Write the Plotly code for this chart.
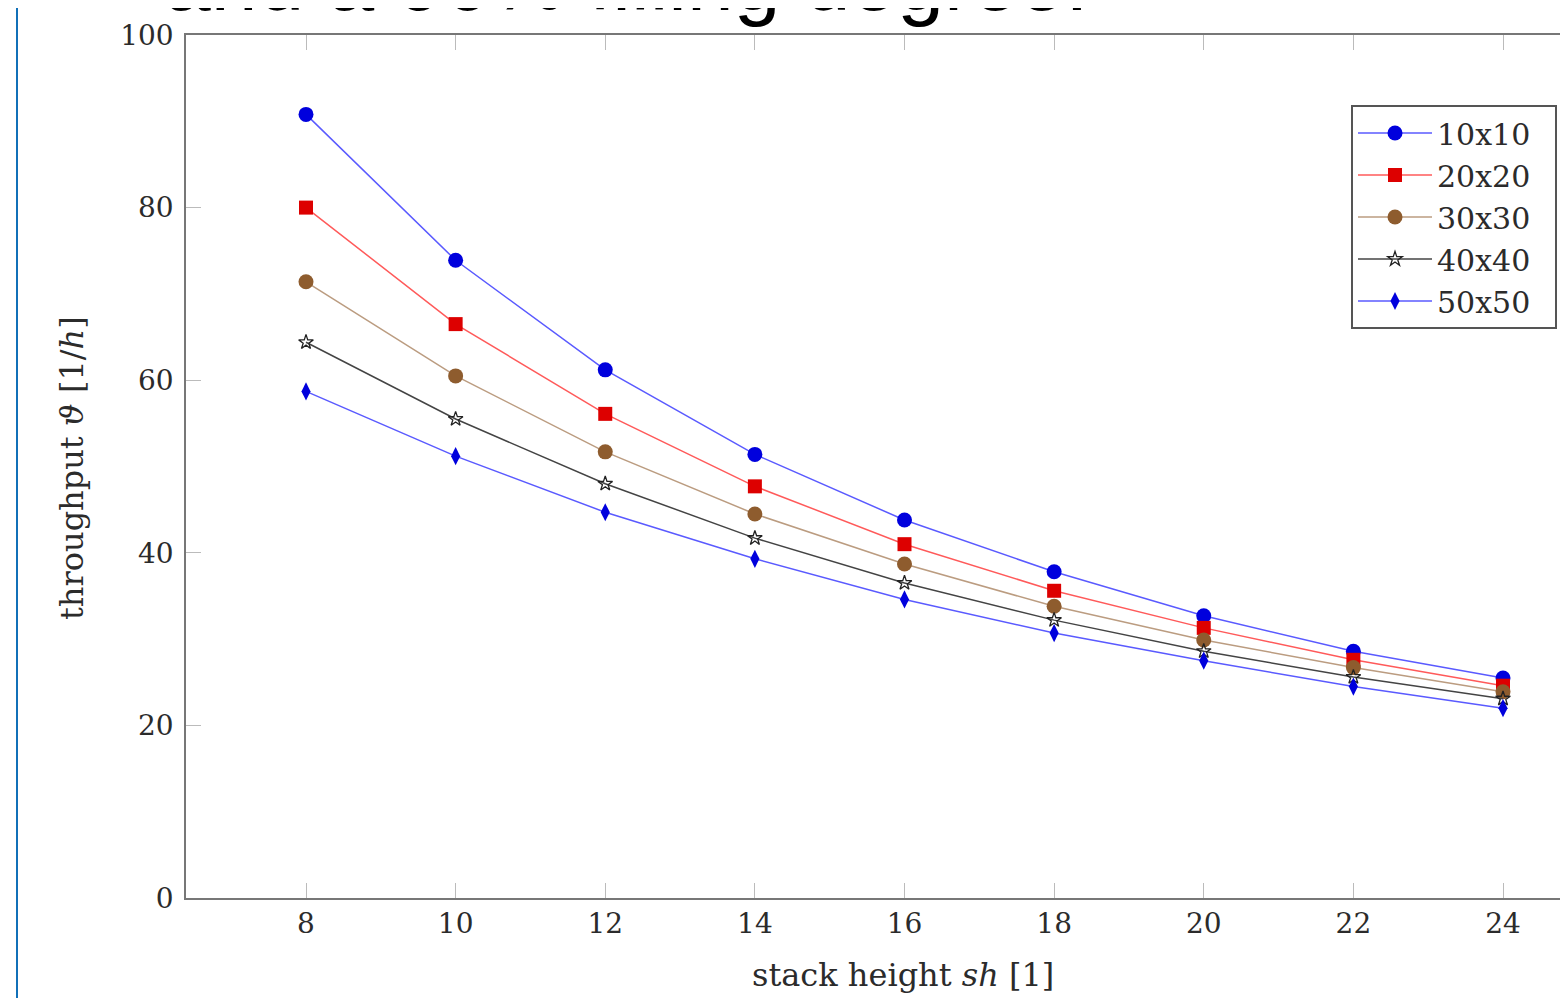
import plotly.graph_objects as go

# ---- data ----
stack_height = [8, 10, 12, 14, 16, 18, 20, 22, 24]
series_names = ["10x10", "20x20", "30x30", "40x40", "50x50"]
thr_10x10 = [90.8, 73.9, 61.2, 51.4, 43.8, 37.8, 32.7, 28.6, 25.5]
thr_20x20 = [80.0, 66.5, 56.1, 47.7, 41.0, 35.6, 31.3, 27.6, 24.6]
thr_30x30 = [71.4, 60.5, 51.7, 44.5, 38.7, 33.8, 29.9, 26.7, 23.9]
thr_40x40 = [64.4, 55.5, 48.0, 41.7, 36.5, 32.2, 28.6, 25.6, 23.1]
thr_50x50 = [58.7, 51.2, 44.7, 39.3, 34.6, 30.7, 27.5, 24.5, 22.0]
y_ticks = [0, 20, 40, 60, 80, 100]
x_ticks = [8, 10, 12, 14, 16, 18, 20, 22, 24]

SERIF = "DejaVu Serif, serif"
TXT = "#2b2b2b"

styles = [
    dict(line="#5a5aff", mcolor="#0000dd", symbol="circle", size=15, mline=None),
    dict(line="#ff5a5a", mcolor="#dd0000", symbol="square", size=14, mline=None),
    dict(line="#bb9c80", mcolor="#8e5c2e", symbol="circle", size=15, mline=None),
    dict(line="#444444", mcolor="#222222", symbol="star-open", size=11, mline=1.3),
    dict(line="#5a5aff", mcolor="#0000dd", symbol="diamond-tall", size=13, mline=None),
]
values = [thr_10x10, thr_20x20, thr_30x30, thr_40x40, thr_50x50]

fig = go.Figure()
for name, vals, st in zip(series_names, values, styles):
    marker = dict(color=st["mcolor"], symbol=st["symbol"], size=st["size"])
    if st["mline"]:
        marker["line"] = dict(color=st["mcolor"], width=st["mline"])
    else:
        marker["line"] = dict(width=0)
    fig.add_trace(go.Scatter(
        x=stack_height, y=vals, name=name + "\u00a0\u00a0", mode="lines+markers",
        line=dict(color=st["line"], width=1.5), marker=marker,
    ))

# the page body adds an 8px offset; the figure is sized to fill the rest of the window
OFF = 8
W, H = 1568 - OFF, 998 - OFF
PL, PT, PB = 186, 35, 898          # plot-area edges in screen pixels
L, T = PL - OFF, PT - OFF
B = H - (PB - OFF)
R = 0
pw = W - L - R
ph = H - T - B

px_per_x = (1503 - 306) / 16.0
xmin = 8 - (306 - PL) / px_per_x
xmax = xmin + pw / px_per_x

fig.update_layout(
    width=W, height=H,
    margin=dict(l=L, r=R, t=T, b=B),
    paper_bgcolor="white", plot_bgcolor="white",
    font=dict(family=SERIF, size=28, color=TXT),
    showlegend=True,
    legend=dict(
        x=(1351 - PL) / pw, y=(PB - 105) / ph,
        xanchor="left", yanchor="top",
        bordercolor="#555555", borderwidth=2, bgcolor="white",
        font=dict(family=SERIF, size=30, color=TXT),
        itemwidth=74,
        tracegroupgap=0,
    ),
    xaxis=dict(
        range=[xmin, xmax], tickvals=x_ticks, ticktext=[str(v) for v in x_ticks],
        showgrid=False, zeroline=False,
        showline=True, linecolor="#777777", linewidth=1.5, mirror="ticks",
        ticks="inside", ticklen=15, tickcolor="#bbbbbb", tickwidth=1,
        ticklabelstandoff=0,
        tickfont=dict(family=SERIF, size=28, color=TXT),
    ),
    yaxis=dict(
        range=[0, 100], tickvals=y_ticks, ticktext=[str(v) for v in y_ticks],
        showgrid=False, zeroline=False,
        showline=True, linecolor="#777777", linewidth=1.5,
        ticks="inside", ticklen=15, tickcolor="#bbbbbb", tickwidth=1,
        ticklabelstandoff=5,
        tickfont=dict(family=SERIF, size=28, color=TXT),
    ),
)

# axis titles
fig.add_annotation(
    text="stack height <i>sh</i> [1]", xref="paper", yref="paper",
    x=(903 - PL) / pw, y=(PB - 975) / ph, xanchor="center", yanchor="middle",
    showarrow=False, font=dict(family=SERIF, size=32, color=TXT),
)
fig.add_annotation(
    text="throughput <i>ϑ</i> [1/<i>h</i>]", xref="paper", yref="paper",
    x=(72 - PL) / pw, y=(PB - 468) / ph, xanchor="center", yanchor="middle",
    textangle=-90, showarrow=False, font=dict(family=SERIF, size=32, color=TXT),
)
# cropped slide title above the chart
fig.add_annotation(
    text="and a 90% filling degree.", xref="paper", yref="paper",
    x=(162 - PL) / pw, y=(PB - 30) / ph, xanchor="left", yanchor="bottom",
    showarrow=False, font=dict(family="Liberation Sans, Arial, sans-serif", size=84, color="#000000"),
)
# slide frame line at the left
fig.add_shape(
    type="line", xref="paper", yref="paper",
    x0=(17 - PL) / pw, x1=(17 - PL) / pw, y0=-0.2, y1=1.2,
    line=dict(color="#1170b8", width=2),
)

fig.write_html("out.html")
